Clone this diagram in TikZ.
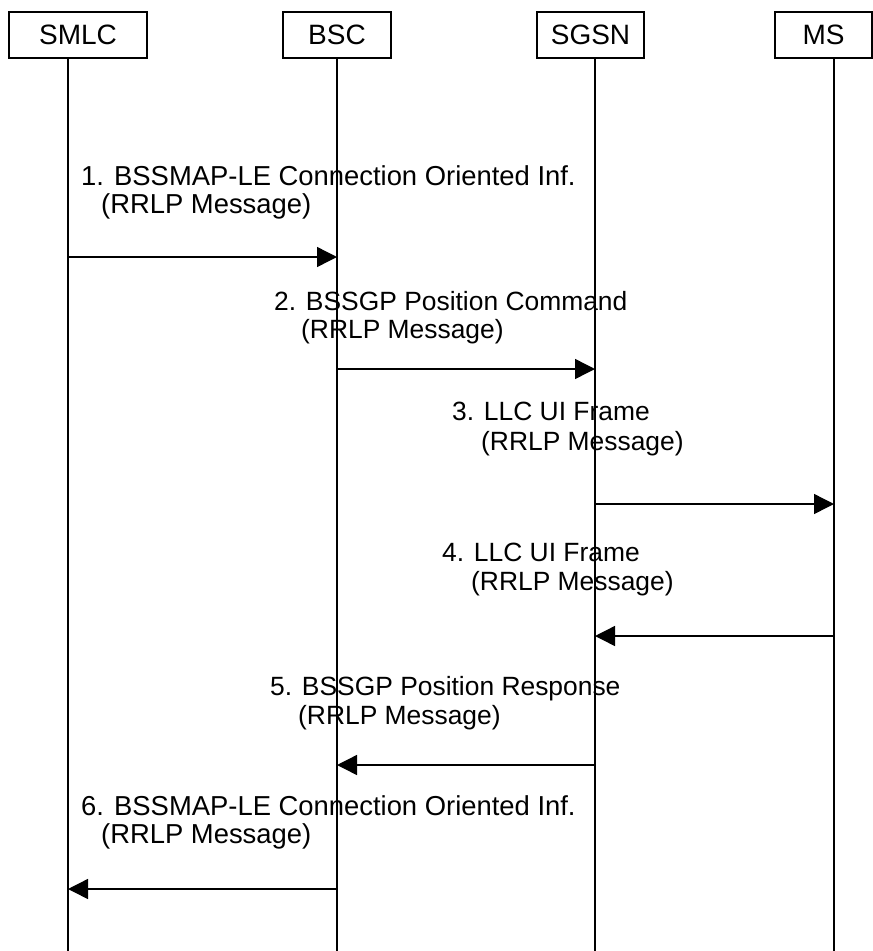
\documentclass[tikz,border=0pt]{standalone}
\usepackage{fontspec}
\setmainfont{Liberation Sans}
\usetikzlibrary{arrows.meta}
\begin{document}
\begin{tikzpicture}[x=1pt,y=-1pt,
  ent/.style={draw, line width=1.2pt, inner sep=0pt, minimum height=46pt, font=\fontsize{28}{30}\selectfont},
  life/.style={line width=1.2pt},
  msg/.style={line width=1.4pt, -{Triangle[length=20pt,width=20pt]}},
  lbl/.style={anchor=base west, inner sep=0pt, font=\fontsize{26.4}{28}\selectfont},
  lblbig/.style={lbl, font=\fontsize{27.4}{28}\selectfont}]
\useasboundingbox (0,0) rectangle (873,951);
% entities
\node[ent, minimum width=138pt] (smlc) at (78,35) {SMLC};
\node[ent, minimum width=108pt] (bsc) at (337,35) {BSC};
\node[ent, minimum width=107pt] (sgsn) at (590.5,35) {SGSN};
\node[ent, minimum width=97pt] (ms) at (823.5,35) {MS};
% lifelines
\coordinate (s0) at (68,58);  \coordinate (s9) at (68,951);
\coordinate (b0) at (337,58); \coordinate (b9) at (337,951);
\coordinate (g0) at (595,58); \coordinate (g9) at (595,951);
\coordinate (m0) at (834,58); \coordinate (m9) at (834,951);
\draw[life] (s0) -- (s9);
\draw[life] (b0) -- (b9);
\draw[life] (g0) -- (g9);
\draw[life] (m0) -- (m9);
% message endpoints
\coordinate (s1) at (68,257);  \coordinate (b1) at (337,257);
\coordinate (b2) at (337,369); \coordinate (g2) at (595,369);
\coordinate (g3) at (595,504); \coordinate (m3) at (834,504);
\coordinate (m4) at (834,636); \coordinate (g4) at (595,636);
\coordinate (g5) at (595,765); \coordinate (b5) at (337,765);
\coordinate (b6) at (337,889); \coordinate (s6) at (68,889);
\draw[msg] (s1) -- (b1);
\draw[msg] (b2) -- (g2);
\draw[msg] (g3) -- (m3);
\draw[msg] (m4) -- (g4);
\draw[msg] (g5) -- (b5);
\draw[msg] (b6) -- (s6);
% labels
\node[lblbig] (l1a) at (81,185) {1. BSSMAP-LE Connection Oriented Inf.};
\node[lblbig] (l1b) at (101,213) {(RRLP Message)};
\node[lbl] (l2a) at (274,310) {2. BSSGP Position Command};
\node[lbl] (l2b) at (301,338) {(RRLP Message)};
\node[lbl] (l3a) at (452,420) {3. LLC UI Frame};
\node[lbl] (l3b) at (481,450) {(RRLP Message)};
\node[lbl] (l4a) at (442,561) {4. LLC UI Frame};
\node[lbl] (l4b) at (471,590) {(RRLP Message)};
\node[lbl] (l5a) at (270,695) {5. BSSGP Position Response};
\node[lbl] (l5b) at (298,724) {(RRLP Message)};
\node[lblbig] (l6a) at (81,815) {6. BSSMAP-LE Connection Oriented Inf.};
\node[lblbig] (l6b) at (101,843) {(RRLP Message)};
\end{tikzpicture}
\end{document}
